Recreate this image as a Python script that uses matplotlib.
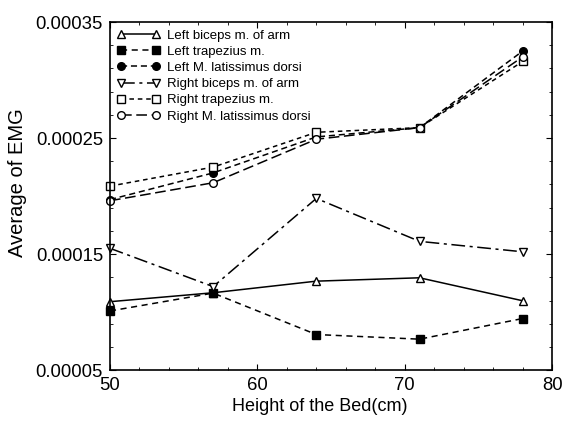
import numpy as np
import matplotlib
matplotlib.use("Agg")
import matplotlib.pyplot as plt
from matplotlib.ticker import FixedLocator, MultipleLocator

plt.rcParams['font.family'] = ['Liberation Sans', 'DejaVu Sans']

heights = [50, 57, 64, 71, 78]

left_biceps = [0.000109, 0.0001167, 0.0001267, 0.0001296, 0.0001098]
left_trapezius = [0.000101, 0.0001164, 0.0000807, 0.0000767, 0.0000945]
left_latissimus = [0.000197, 0.000220, 0.000251, 0.000259, 0.000325]
right_biceps = [0.000155, 0.000122, 0.000198, 0.000161, 0.000152]
right_trapezius = [0.0002086, 0.000225, 0.000255, 0.000259, 0.000316]
right_latissimus = [0.000196, 0.0002115, 0.000249, 0.000259, 0.000320]

labels = ["Left biceps m. of arm", "Left trapezius m.", "Left M. latissimus dorsi",
          "Right biceps m. of arm", "Right trapezius m.", "Right M. latissimus dorsi"]

fig = plt.figure(figsize=(5.64, 4.24), dpi=100)
ax = fig.add_axes([0.195, 0.127, 0.784, 0.821])

series = [
    (left_biceps, dict(linestyle='-', marker='^', mfc='white')),
    (left_trapezius, dict(linestyle=(0, (4, 3)), marker='s', mfc='black')),
    (left_latissimus, dict(linestyle=(0, (4, 2.5)), marker='o', mfc='black')),
    (right_biceps, dict(linestyle=(0, (9, 3, 2, 3)), marker='v', mfc='white')),
    (right_trapezius, dict(linestyle=(0, (3, 2.5)), marker='s', mfc='white')),
    (right_latissimus, dict(linestyle=(0, (7, 3)), marker='o', mfc='white')),
]

for (vals, style), lab in zip(series, labels):
    ax.plot(heights, vals, color='black', lw=1.1, markersize=5.5, mec='black',
            mew=1.0, label=lab, clip_on=False, **style)

ax.set_xlim(50, 80)
ax.set_ylim(0.00005, 0.00035)
ax.set_xticks([50, 60, 70, 80])
ax.set_yticks([0.00005, 0.00015, 0.00025, 0.00035])
ax.set_yticklabels(["0.00005", "0.00015", "0.00025", "0.00035"])
ax.xaxis.set_minor_locator(MultipleLocator(2))
ax.yaxis.set_minor_locator(FixedLocator(np.arange(0.00005, 0.000351, 0.00002)))
ax.tick_params(which='both', direction='in', top=True, right=True, labelsize=13.3)
ax.tick_params(which='major', length=4)
ax.tick_params(which='minor', length=2.5)
ax.tick_params(axis='x', pad=5)
ax.tick_params(axis='y', pad=5)

ax.set_xlabel("Height of the Bed(cm)", fontsize=13, labelpad=3, x=0.475)
ax.set_ylabel("Average of EMG", fontsize=14.5, labelpad=6, y=0.54)

for s in ax.spines.values():
    s.set_linewidth(1.2)

ax.legend(loc='upper left', frameon=False, fontsize=9.5, handlelength=3.2,
          numpoints=2, labelspacing=0.3, borderaxespad=0.25, borderpad=0.3,
          handletextpad=0.6)

fig.savefig("out.png", dpi=100)
